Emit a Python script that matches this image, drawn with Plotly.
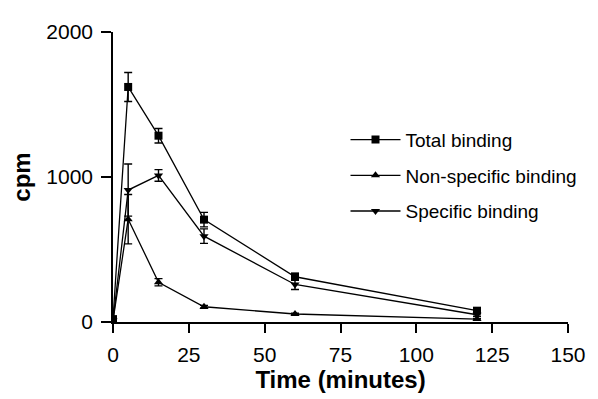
import plotly.graph_objects as go

time = [0, 5, 15, 30, 60, 120]
total = [20, 1621, 1285, 706, 312, 78]
total_err = [0, 100, 50, 50, 25, 15]
nonspec = [10, 709, 274, 105, 55, 20]
nonspec_err = [0, 170, 25, 10, 5, 5]
specific = [10, 910, 1011, 592, 259, 50]
specific_err = [0, 180, 40, 50, 35, 10]

names = ["Total binding", "Non-specific binding", "Specific binding"]
symbols = ["square", "triangle-up", "triangle-down"]

fig = go.Figure()
for i, (y, e) in enumerate([(total, total_err), (nonspec, nonspec_err), (specific, specific_err)]):
    fig.add_trace(go.Scatter(
        x=time, y=y, name=names[i], mode="lines+markers",
        line=dict(color="black", width=1.3),
        marker=dict(symbol=symbols[i], size=8, color="black"),
        error_y=dict(type="data", array=e, visible=True, color="black", thickness=1.4, width=4),
        legendgroup=f"g{i}",
    ))

# page body has an 8px margin, so the figure is sized/offset to compensate
fig.update_layout(
    width=590, height=391,
    margin=dict(l=104, r=30, t=15, b=72),
    paper_bgcolor="white", plot_bgcolor="white",
    font=dict(family="Liberation Sans, Arial", size=21, color="black"),
    showlegend=True,
    legend=dict(x=0.511, y=0.694, xanchor="left", yanchor="top",
                font=dict(size=19), tracegroupgap=8, itemwidth=50,
                bgcolor="rgba(0,0,0,0)"),
    xaxis=dict(range=[0, 150], tickvals=[0, 25, 50, 75, 100, 125, 150],
               showgrid=False, zeroline=False, showline=True, linecolor="black", linewidth=1.5,
               ticks="outside", ticklen=9, tickwidth=1.5, tickcolor="black",
               ticklabelstandoff=4,
               title=dict(text="<b>Time (minutes)</b>", font=dict(size=24), standoff=4)),
    yaxis=dict(range=[0, 2000], tickvals=[0, 1000, 2000],
               showgrid=False, zeroline=False, showline=True, linecolor="black", linewidth=1.5,
               ticks="outside", ticklen=10, tickwidth=1.5, tickcolor="black",
               ticklabelstandoff=4,
               title=dict(text="<b>cpm</b>", font=dict(size=24), standoff=10)),
)

fig.write_html("out.html")
